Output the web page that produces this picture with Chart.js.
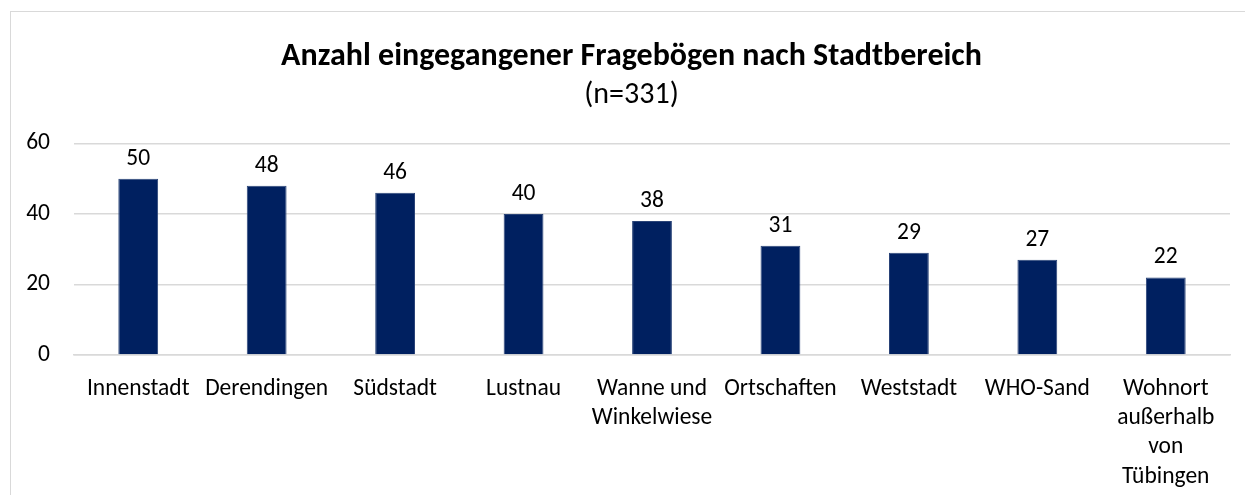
<!DOCTYPE html>
<html>
<head>
<meta charset="utf-8">
<script src="https://cdn.jsdelivr.net/npm/chart.js@4"></script>
<style>
  html, body { margin: 0; padding: 0; background: #fff; }
  #frame { position: absolute; left: 10px; top: 11px; width: 1260px; height: 520px; border: 1px solid #d9d9d9; box-sizing: border-box; }
  #wrap { position: absolute; left: 0; top: 0; width: 1245px; height: 495px; }
</style>
</head>
<body>
<div id="frame"></div>
<div id="wrap"><canvas id="c" width="1245" height="495"></canvas></div>
<script>
const categories = [
  "Innenstadt",
  "Derendingen",
  "Südstadt",
  "Lustnau",
  ["Wanne und", "Winkelwiese"],
  "Ortschaften",
  "Weststadt",
  "WHO-Sand",
  ["Wohnort", "außerhalb", "von", "Tübingen"]
];
const counts = [50, 48, 46, 40, 38, 31, 29, 27, 22];
const yTicks = [0, 20, 40, 60];
const titleText = "Anzahl eingegangener Fragebögen nach Stadtbereich";
const subtitleText = "(n=331)";

const FONT = "Carlito, Lato, 'Liberation Sans', sans-serif";

const valueLabels = {
  id: 'valueLabels',
  afterDatasetsDraw(chart) {
    const ctx = chart.ctx;
    const meta = chart.getDatasetMeta(0);
    ctx.save();
    ctx.font = "23.5px " + FONT;
    ctx.fillStyle = "#000";
    ctx.textAlign = "center";
    ctx.textBaseline = "middle";
    meta.data.forEach((bar, i) => {
      ctx.fillText(String(counts[i]), bar.x, bar.y - 20);
    });
    ctx.restore();
  }
};

new Chart(document.getElementById('c'), {
  type: 'bar',
  data: {
    labels: categories,
    datasets: [{
      data: counts,
      yAxisID: 'y',
      backgroundColor: '#002060',
      borderColor: '#2a4478',
      borderWidth: 1,
      categoryPercentage: 1,
      barPercentage: 0.31
    }]
  },
  options: {
    responsive: false,
    animation: false,
    layout: { padding: { left: 18, right: 0, top: 0, bottom: 0 } },
    plugins: {
      legend: { display: false },
      tooltip: { enabled: false },
      title: {
        display: true,
        text: titleText,
        color: '#000',
        font: { family: FONT, size: 32, weight: 'bold', lineHeight: 1.2 },
        padding: { top: 38, bottom: 1 }
      },
      subtitle: {
        display: true,
        text: subtitleText,
        color: '#000',
        font: { family: FONT, size: 30, weight: 'normal', lineHeight: 1.2 },
        padding: { top: 0, bottom: 30 }
      }
    },
    scales: {
      x: {
        grid: { display: false, drawTicks: false },
        border: { display: true, color: '#d9d9d9', width: 1.5 },
        ticks: {
          color: '#000',
          font: { family: FONT, size: 23.5, lineHeight: 1.25 },
          maxRotation: 0,
          minRotation: 0,
          autoSkip: false,
          padding: 19
        },
        afterFit(scale) { scale.height = 140; }
      },
      y: {
        position: 'left',
        min: 0,
        max: 60,
        afterBuildTicks(scale) { scale.ticks = yTicks.map(v => ({ value: v })); },
        grid: { color: '#d9d9d9', lineWidth: 1.5, drawTicks: false },
        border: { display: false },
        ticks: {
          color: '#000',
          font: { family: FONT, size: 23.5 },
          padding: 24
        },
        afterFit(scale) { scale.width = 56; }
      },
      yRight: {
        position: 'right',
        display: true,
        min: 0,
        max: 60,
        grid: { display: false, drawTicks: false },
        border: { display: false },
        ticks: { display: false },
        afterFit(scale) { scale.width = 15; }
      }
    }
  },
  plugins: [valueLabels]
});
</script>
</body>
</html>
